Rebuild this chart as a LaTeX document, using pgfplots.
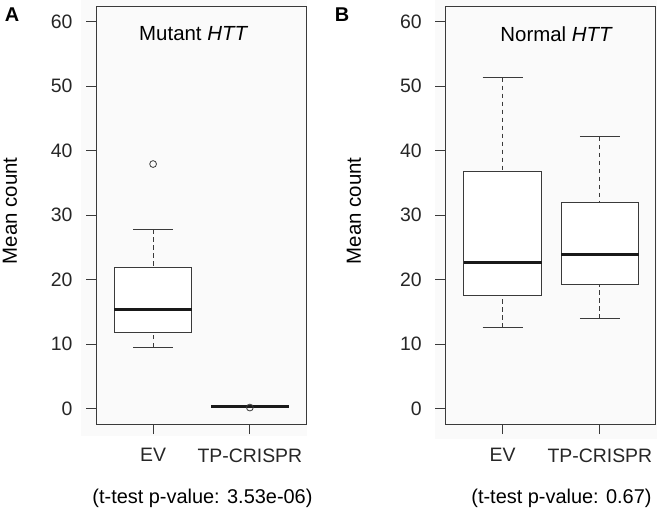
\documentclass[border=0pt]{standalone}
\usepackage{pgfplots}
\pgfplotsset{compat=1.18}
\usepgfplotslibrary{statistics}
\usepackage{fontspec}
\setmainfont{Liberation Sans}
\definecolor{axc}{HTML}{3A3A3A}
\definecolor{bgc}{HTML}{FAFAFA}
\pgfplotsset{
  myax/.style={
    scale only axis, width=210bp, height=418bp,
    xmin=0.41, xmax=2.58, ymin=-2.4, ymax=62.4,
    xtick={1,2}, xticklabels={EV,TP-CRISPR},
    ytick={0,10,...,60},
    tick align=outside, major tick length=10bp,
    xtick pos=bottom, ytick pos=left,
    axis line style={axc, line width=0.9bp},
    every tick/.style={axc, line width=0.9bp},
    tick label style={font=\fontsize{19.5}{21}\selectfont, text=black!85},
    yticklabel style={xshift=-10bp},
    xticklabel style={yshift=-11bp},
    /pgf/number format/assume math mode=true,
    ylabel={Mean count},
    every axis y label/.style={rotate=90, anchor=center, font=\fontsize{20.5}{22}\selectfont},
    clip=false,
    boxplot/draw direction=y,
    boxplot/box extend=0.8,
    boxplot/whisker extend=0.41,
    boxplot/every box/.style={draw=axc, line width=0.9bp, fill=white},
    boxplot/every median/.style={black!90, line width=3bp},
    boxplot/draw/lower whisker/.code={%
      \draw[axc, line width=0.9bp, dash pattern=on 4.5bp off 3.5bp]
        (boxplot box cs:\pgfplotsboxplotvalue{lower whisker},0.5) --
        (boxplot box cs:\pgfplotsboxplotvalue{lower quartile},0.5);
      \draw[axc, line width=0.9bp]
        (boxplot whisker cs:\pgfplotsboxplotvalue{lower whisker},0) --
        (boxplot whisker cs:\pgfplotsboxplotvalue{lower whisker},1);
    },
    boxplot/draw/upper whisker/.code={%
      \draw[axc, line width=0.9bp, dash pattern=on 4.5bp off 3.5bp]
        (boxplot box cs:\pgfplotsboxplotvalue{upper whisker},0.5) --
        (boxplot box cs:\pgfplotsboxplotvalue{upper quartile},0.5);
      \draw[axc, line width=0.9bp]
        (boxplot whisker cs:\pgfplotsboxplotvalue{upper whisker},0) --
        (boxplot whisker cs:\pgfplotsboxplotvalue{upper whisker},1);
    },
  },
  outl/.style={mark=o, mark size=3.4bp, mark options={axc, line width=0.8bp, solid}},
}
\begin{document}
\begin{tikzpicture}
\path[use as bounding box] (0bp,0bp) rectangle (660bp,508bp);
\fill[bgc] (81bp,72bp) rectangle (307bp,508bp);
\fill[bgc] (435bp,69bp) rectangle (657bp,508bp);
\node[font=\bfseries\fontsize{20}{22}\selectfont] at (12bp,493bp) {A};
\node[font=\bfseries\fontsize{20}{22}\selectfont] at (342bp,493bp) {B};
\begin{axis}[myax, at={(96bp,84bp)}, anchor=south west,
  ylabel style={at={(axis description cs:-0.41,0.51)}}]
\addplot+[boxplot prepared={draw position=1, median=15.35, lower quartile=11.8, upper quartile=21.9, lower whisker=9.5, upper whisker=27.8}, outl] coordinates {(0,37.9)};
\addplot+[boxplot prepared={draw position=2, median=0.36, lower quartile=0.3, upper quartile=0.4, lower whisker=0.3, upper whisker=0.4}, outl] coordinates {(0,0.15)};
\node[font=\fontsize{20.5}{22}\selectfont] at (axis cs:1.42,58.1) {Mutant \textit{HTT}};
\node[font=\fontsize{20}{22}\selectfont] at (axis cs:1.51,-14.0) {(t-test p-value: 3.53e-06)};
\end{axis}
\begin{axis}[myax, at={(445.3bp,84bp)}, anchor=south west, xmax=2.57,
  ylabel style={at={(axis description cs:-0.435,0.51)}}]
\addplot+[boxplot prepared={draw position=1, median=22.7, lower quartile=17.6, upper quartile=36.7, lower whisker=12.5, upper whisker=51.3}] coordinates {};
\addplot+[boxplot prepared={draw position=2, median=23.85, lower quartile=19.3, upper quartile=32.0, lower whisker=13.9, upper whisker=42.1}] coordinates {};
\node[font=\fontsize{20.5}{22}\selectfont] at (axis cs:1.555,58.1) {Normal \textit{HTT}};
\node[font=\fontsize{20}{22}\selectfont] at (axis cs:1.605,-14.0) {(t-test p-value: 0.67)};
\end{axis}
\end{tikzpicture}
\end{document}
